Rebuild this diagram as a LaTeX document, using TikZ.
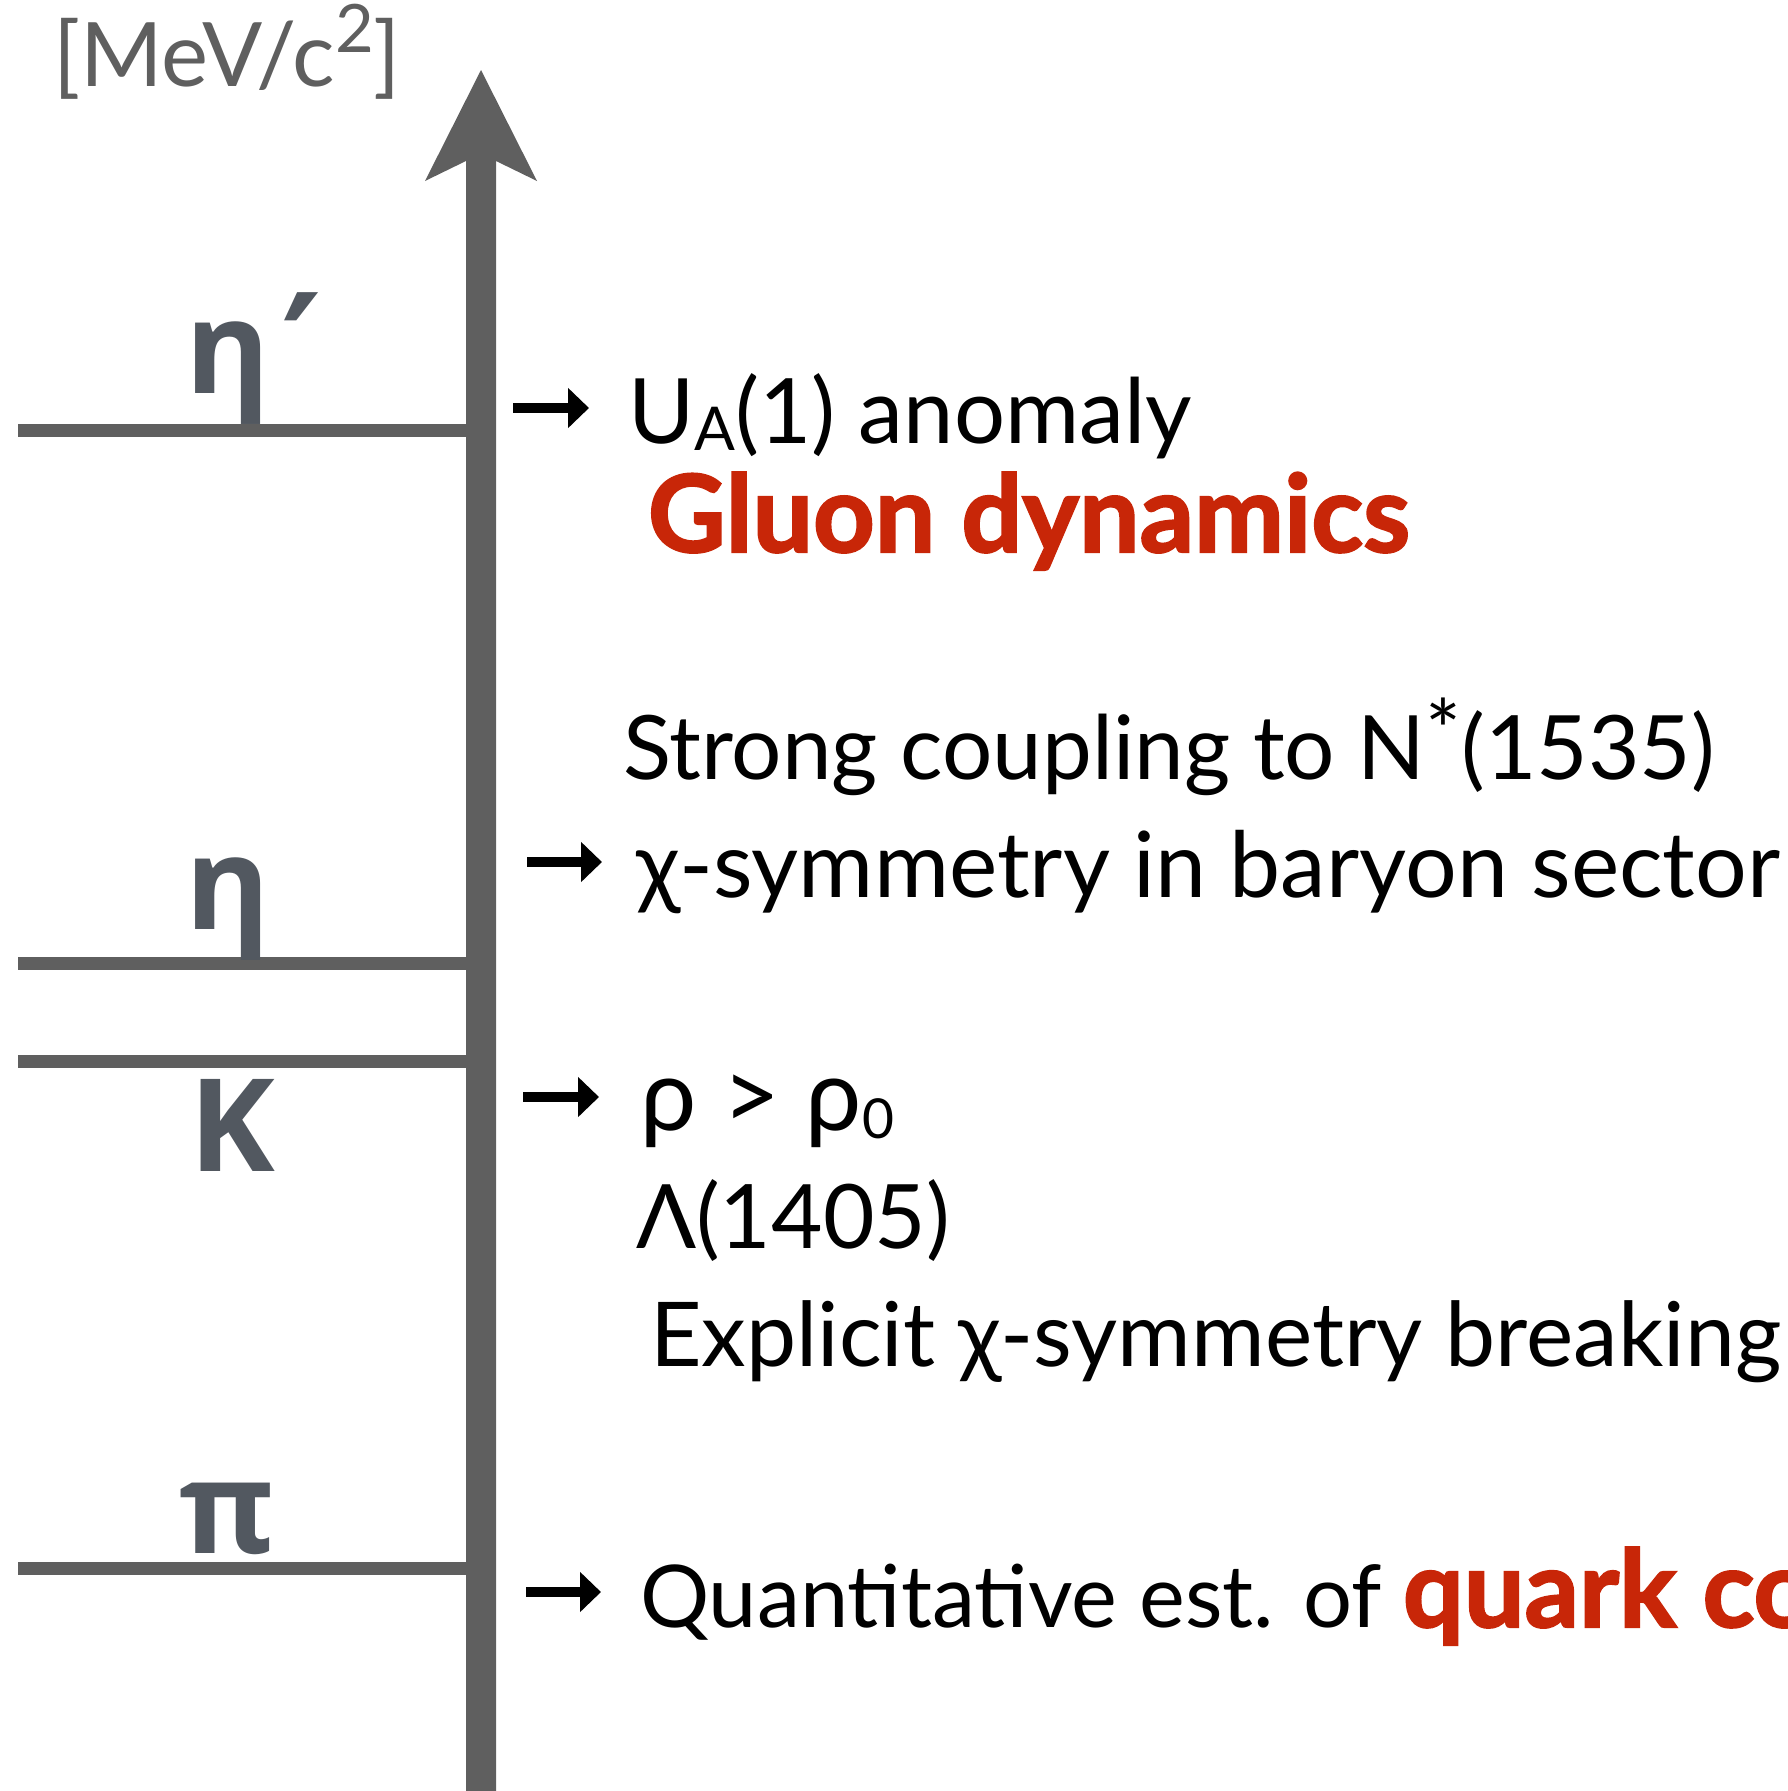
\documentclass[tikz,border=0pt]{standalone}
\usepackage{fontspec}
\usepackage{graphicx}
\setmainfont{Lato}
\newfontfamily\heavyfont{Lato}[BoldFeatures={FakeBold=2}]
\newfontfamily\labfont{Open Sans}
\newfontfamily\primefont{DejaVu Sans}
\usetikzlibrary{arrows.meta}
\definecolor{axisgray}{RGB}{95,95,95}
\definecolor{labgray}{RGB}{82,88,96}
\definecolor{hired}{RGB}{200,38,8}
\newdimen\fitlen
\newcommand\supx[2]{\raisebox{#1em}{\scalebox{0.75}{#2}}}
\newcommand\subx[2]{\raisebox{-0.08em}{\scalebox{#1}{#2}}}
\newcommand\fitw[2]{\resizebox{#1pt}{!}{#2}}
\begin{document}
\settowidth\fitlen{\fontsize{100}{100}\selectfont Strong coupling to N*(1535)}%
\ifdim\fitlen<10pt \def\regsize{90}\else\edef\regsize{\fpeval{round(108700/(\fitlen),3)}}\fi
\settowidth\fitlen{\fontsize{100}{100}\selectfont\heavyfont\bfseries Gluon dynamics}%
\ifdim\fitlen<10pt \def\boldsize{90}\else\edef\boldsize{\fpeval{round(76200/(\fitlen),3)}}\fi
\begin{tikzpicture}[x=1pt,y=-1pt]
\tikzset{
  txt/.style={anchor=base west,inner sep=0pt,outer sep=0pt,font=\fontsize{\regsize}{\regsize}\selectfont},
  redtxt/.style={txt,text=hired,font=\fontsize{\boldsize}{\boldsize}\selectfont\heavyfont\bfseries},
  lab/.style={anchor=base,inner sep=0pt,outer sep=0pt,text=labgray,font=\labfont\fontsize{129}{140}\selectfont\bfseries},
  level/.style={draw=axisgray,line width=13pt},
  pointer/.style={line width=10pt,-{Triangle[length=21pt,width=39pt]}}
}
\useasboundingbox (0,0) rectangle (1788,1791);
% axis with arrow head
\fill[axisgray] (466,1791) -- (466,161) -- (425,181) -- (481,70) -- (537,181) -- (496,161) -- (496,1791) -- cycle;
% unit
\node[anchor=base west,inner sep=0pt,text=axisgray] (unit) at (53,86) {\resizebox{348pt}{!}{\fontsize{90}{100}\selectfont [MeV/c\supx{0.38}{2}]}};
% levels
\coordinate (l1a) at (18,430); \coordinate (l1b) at (466,430);
\coordinate (l2a) at (18,963); \coordinate (l2b) at (466,963);
\coordinate (l3a) at (18,1061); \coordinate (l3b) at (466,1061);
\coordinate (l4a) at (18,1568); \coordinate (l4b) at (466,1568);
\draw[level] (l1a) -- (l1b);
\draw[level] (l2a) -- (l2b);
\draw[level] (l3a) -- (l3b);
\draw[level] (l4a) -- (l4b);
% particle labels
\node[lab] (etap) at (227.5,393) {η\rlap{\kern12pt\raisebox{-12pt}{\primefont\bfseries\scalebox{1.2}{′}}}};
\node[lab] (eta) at (227.5,929) {η};
\node[lab] (kaon) at (232.5,1171) {K};
\node[lab] (pion) at (227,1553) {π};
% pointers
\coordinate (p1a) at (513,408); \coordinate (p1b) at (589,408);
\coordinate (p2a) at (527,862); \coordinate (p2b) at (602,862);
\coordinate (p3a) at (523,1097); \coordinate (p3b) at (599,1097);
\coordinate (p4a) at (526,1592); \coordinate (p4b) at (601,1592);
\draw[pointer] (p1a) -- (p1b);
\draw[pointer] (p2a) -- (p2b);
\draw[pointer] (p3a) -- (p3b);
\draw[pointer] (p4a) -- (p4b);
% texts
\node[txt] (ua) at (628,443) {\fitw{564}{U\subx{0.67}{A}(1) anomaly}};
\node[redtxt] (gluon) at (648,552) {Gluon dynamics};
\node[txt] (strong) at (623,779) {\fitw{1092}{Strong coupling to N\raisebox{0.2em}{\scalebox{0.95}{*}}(1535)}};
\node[txt] (chi) at (636,897) {\fitw{1144}{χ-symmetry in baryon sector}};
\node[txt] (rho) at (640,1130) {\fitw{254}{ρ > ρ\subx{0.55}{0}}};
\node[txt] (lam) at (636,1248) {\fitw{314}{Λ(1405)}};
\node[txt] (expl) at (650,1366) {\fitw{1131}{Explicit χ-symmetry breaking}};
\node[txt] (quant) at (640,1627) {\fitw{742}{Quantitative est. of}};
\node[redtxt] (quark) at (1403,1627) {quark co};
\end{tikzpicture}
\end{document}
